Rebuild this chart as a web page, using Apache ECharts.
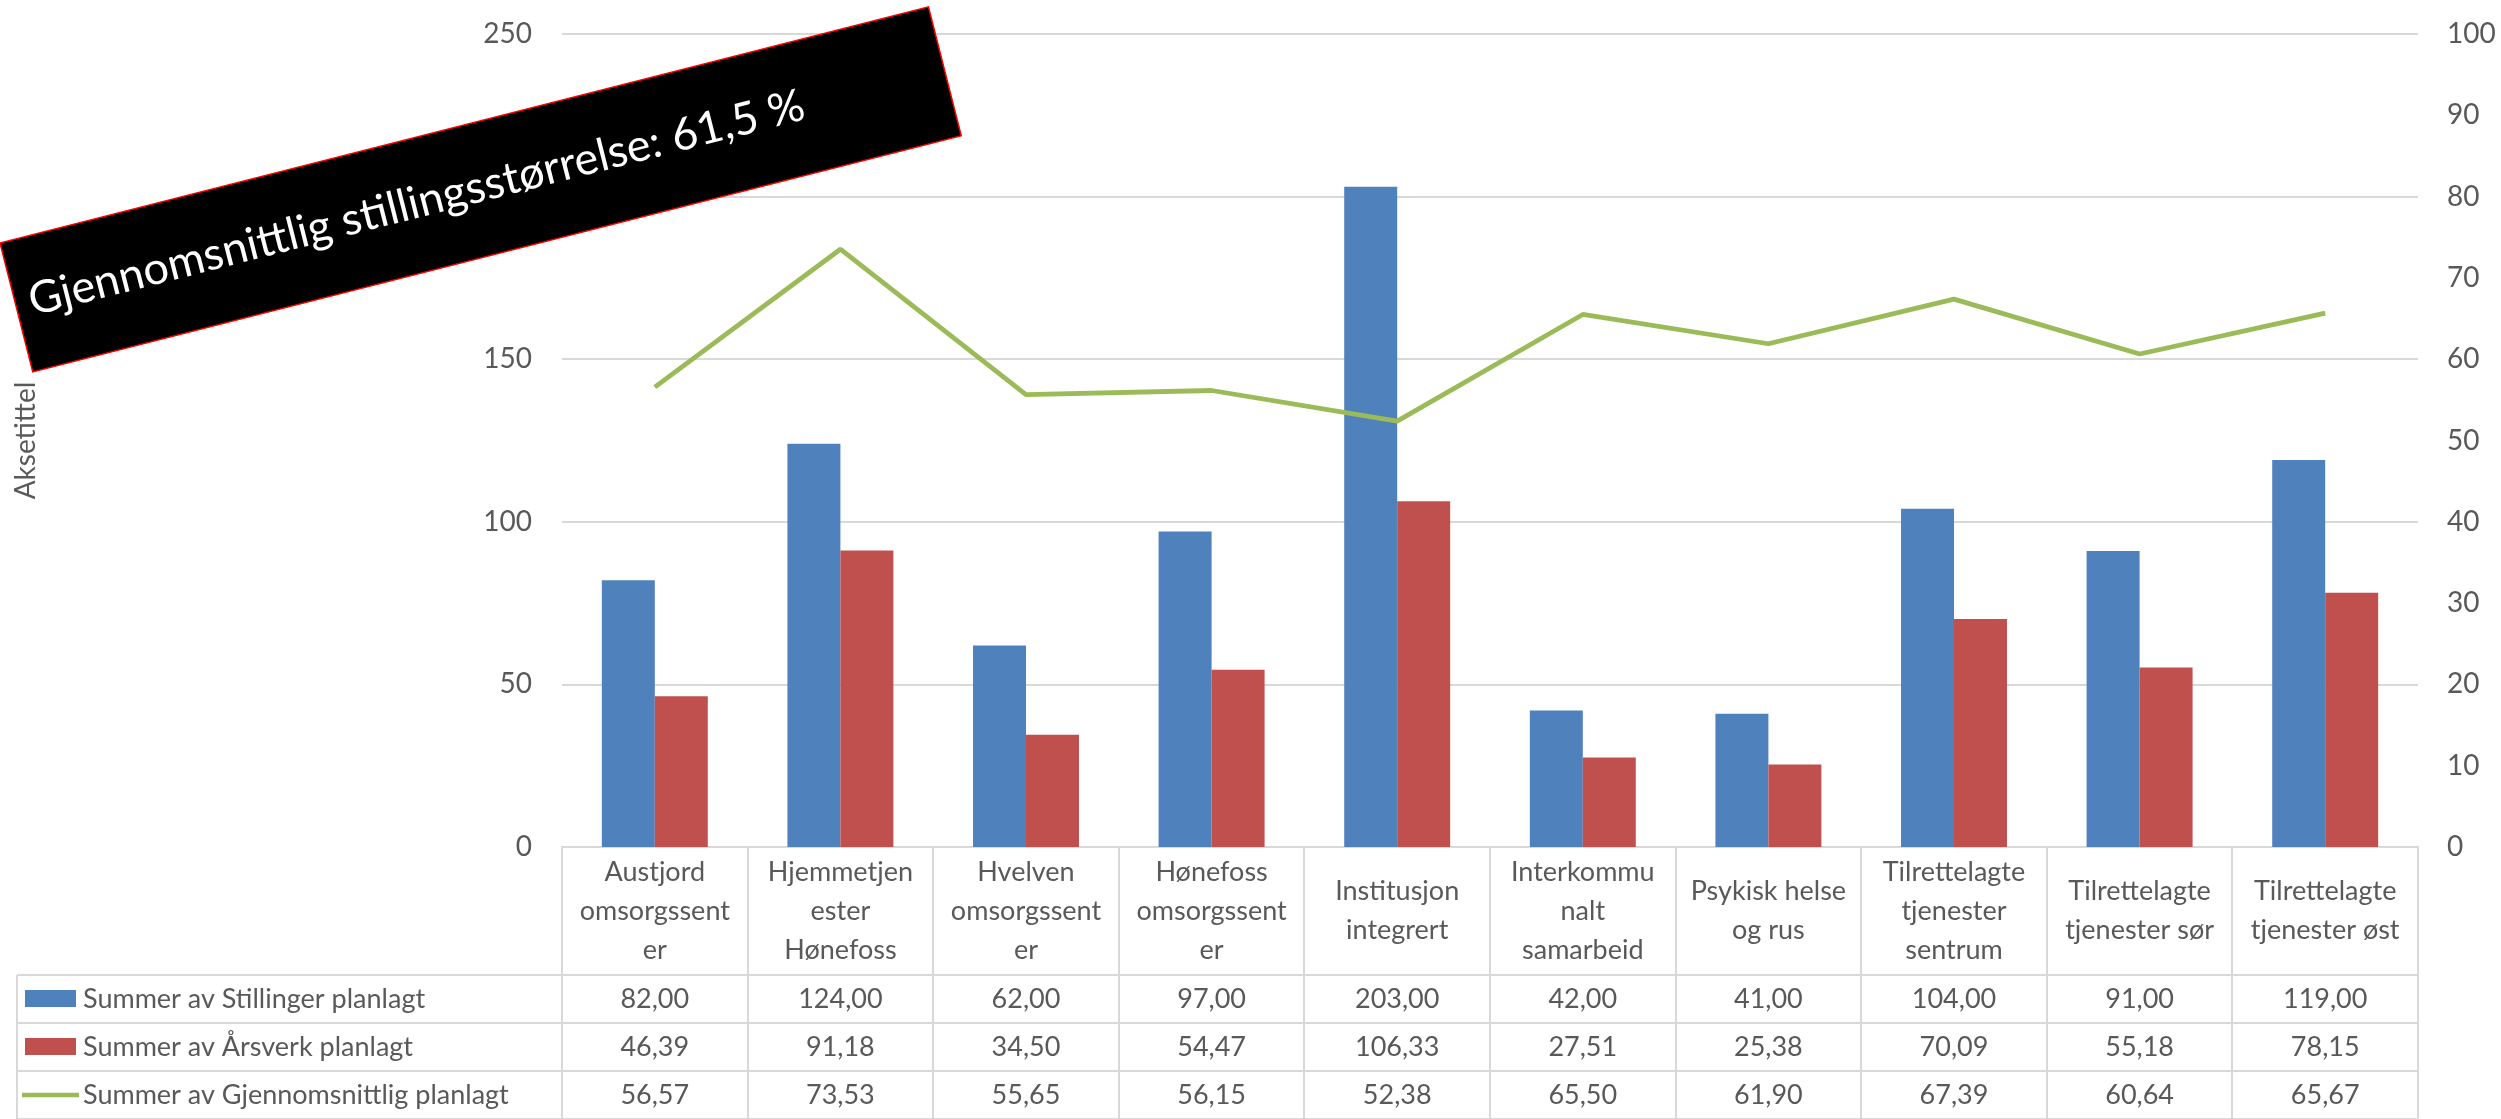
<!DOCTYPE html>
<html>
<head>
<meta charset="utf-8">
<script src="https://cdn.jsdelivr.net/npm/echarts@6/dist/echarts.min.js"></script>
<style>
  html, body { margin: 0; padding: 0; background: #ffffff; }
  #chart { width: 2501px; height: 1119px; }
</style>
</head>
<body>
<div id="chart"></div>
<script>
// Units (header cells wrap the way the table shows them)
const categories = [
  'Austjord\nomsorgssent\ner',
  'Hjemmetjen\nester\nHønefoss',
  'Hvelven\nomsorgssent\ner',
  'Hønefoss\nomsorgssent\ner',
  'Institusjon\nintegrert',
  'Interkommu\nnalt\nsamarbeid',
  'Psykisk helse\nog rus',
  'Tilrettelagte\ntjenester\nsentrum',
  'Tilrettelagte\ntjenester sør',
  'Tilrettelagte\ntjenester øst'
];
const seriesNames = [
  'Summer av Stillinger planlagt',
  'Summer av Årsverk planlagt',
  'Summer av Gjennomsnittlig planlagt'
];
const stillinger = [82.00, 124.00, 62.00, 97.00, 203.00, 42.00, 41.00, 104.00, 91.00, 119.00];
const arsverk = [46.39, 91.18, 34.50, 54.47, 106.33, 27.51, 25.38, 70.09, 55.18, 78.15];
const snitt = [56.57, 73.53, 55.65, 56.15, 52.38, 65.50, 61.90, 67.39, 60.64, 65.67];
const leftTicks = { min: 0, max: 250, interval: 50 };
const rightTicks = { min: 0, max: 100, interval: 10 };
const bannerText = 'Gjennomsnittlig stillingsstørrelse: 61,5 %';
const axisTitle = 'Aksetittel';

const COLORS = ['#4F81BD', '#C0504D', '#9BBB59'];
const FONT = 'Lato, "Open Sans", sans-serif';
const TEXT = '#595959';
const RULE = '#D9D9D9';
const GRID = { left: 562, right: 83, top: 34, bottom: 272 };
const HEADER_H = 128;
const ROW_H = 48;
const TABLE_LEFT = 17;

const fmt = v => v.toFixed(2).replace('.', ',');

const chart = echarts.init(document.getElementById('chart'), null, { renderer: 'canvas' });

chart.setOption({
  animation: false,
  backgroundColor: '#ffffff',
  textStyle: { fontFamily: FONT },
  grid: { left: GRID.left, right: GRID.right, top: GRID.top, bottom: GRID.bottom, containLabel: false },
  xAxis: {
    type: 'category',
    data: categories,
    axisLine: { show: true, lineStyle: { color: RULE, width: 2 } },
    axisTick: { show: false },
    axisLabel: {
      interval: 0,
      color: TEXT,
      fontFamily: FONT,
      fontSize: 27,
      lineHeight: 39,
      align: 'center',
      verticalAlign: 'middle',
      margin: HEADER_H / 2
    },
    splitLine: { show: false }
  },
  yAxis: [
    {
      type: 'value',
      min: leftTicks.min, max: leftTicks.max, interval: leftTicks.interval,
      name: axisTitle,
      nameLocation: 'middle',
      nameGap: 522,
      nameRotate: 90,
      nameTextStyle: { color: TEXT, fontFamily: FONT, fontSize: 28 },
      axisLine: { show: false },
      axisTick: { show: false },
      axisLabel: { color: TEXT, fontFamily: FONT, fontSize: 28, margin: 30 },
      splitLine: { show: true, lineStyle: { color: RULE, width: 2 } }
    },
    {
      type: 'value',
      min: rightTicks.min, max: rightTicks.max, interval: rightTicks.interval,
      position: 'right',
      axisLine: { show: false },
      axisTick: { show: false },
      axisLabel: { color: TEXT, fontFamily: FONT, fontSize: 28, margin: 29, align: 'left' },
      splitLine: { show: false }
    }
  ],
  series: [
    {
      name: seriesNames[0], type: 'bar', data: stillinger,
      itemStyle: { color: COLORS[0] },
      barGap: '0%', barCategoryGap: '42.9%'
    },
    {
      name: seriesNames[1], type: 'bar', data: arsverk,
      itemStyle: { color: COLORS[1] },
      barGap: '0%', barCategoryGap: '42.9%'
    },
    {
      name: seriesNames[2], type: 'line', yAxisIndex: 1, data: snitt,
      symbol: 'none',
      lineStyle: { color: COLORS[2], width: 4.8 },
      z: 5
    }
  ]
});

// Data table under the plot, aligned to the category axis
function buildTable() {
  const W = chart.getWidth();
  const axisY = chart.getHeight() - GRID.bottom;
  const plotLeft = GRID.left;
  const plotRight = W - GRID.right;
  const centers = categories.map((c, i) => chart.convertToPixel({ xAxisIndex: 0 }, i));
  const band = (plotRight - plotLeft) / categories.length;
  const rowsTop = axisY + HEADER_H;
  const tableBottom = rowsTop + ROW_H * 3;
  const els = [];
  const line = (x1, y1, x2, y2) => els.push({
    type: 'line', silent: true, z: 10,
    shape: { x1, y1, x2, y2 },
    style: { stroke: RULE, lineWidth: 2 }
  });

  // vertical rules through header and rows
  for (let i = 0; i <= categories.length; i++) {
    const x = Math.round(plotLeft + i * band);
    line(x, axisY, x, tableBottom);
  }
  line(TABLE_LEFT, rowsTop, TABLE_LEFT, tableBottom);
  // horizontal rules
  for (let r = 0; r <= 3; r++) {
    const y = rowsTop + r * ROW_H;
    line(TABLE_LEFT, y, plotRight, y);
  }

  const rows = [stillinger, arsverk, snitt];
  rows.forEach((vals, r) => {
    const cy = rowsTop + r * ROW_H + ROW_H / 2;
    // legend key
    if (r < 2) {
      els.push({ type: 'rect', silent: true, z: 11,
        shape: { x: 25, y: cy - 9, width: 51, height: 17 },
        style: { fill: COLORS[r] } });
    } else {
      els.push({ type: 'line', silent: true, z: 11,
        shape: { x1: 22, y1: cy, x2: 79, y2: cy },
        style: { stroke: COLORS[r], lineWidth: 4.5 } });
    }
    els.push({ type: 'text', silent: true, z: 11,
      x: 83, y: cy,
      style: { text: seriesNames[r], fill: TEXT, font: '27px ' + FONT, textAlign: 'left', textVerticalAlign: 'middle' } });
    vals.forEach((v, i) => {
      els.push({ type: 'text', silent: true, z: 11,
        x: centers[i], y: cy,
        style: { text: fmt(v), fill: TEXT, font: '27px ' + FONT, textAlign: 'center', textVerticalAlign: 'middle' } });
    });
  });

  // tilted banner with the overall average, drawn on its own layer above the axes
  els.push({
    type: 'group', x: 0, y: 243, rotation: 0.249, zlevel: 2,
    children: [
      { type: 'rect', zlevel: 2, z: 100, shape: { x: 0, y: 0, width: 958, height: 133 },
        style: { fill: '#000000', stroke: '#FF0000', lineWidth: 1.5 } },
      { type: 'text', zlevel: 2, z: 101, x: 14, y: 64,
        style: { text: bannerText, fill: '#ffffff', font: '45px ' + FONT, textAlign: 'left', textVerticalAlign: 'middle' } }
    ]
  });

  chart.setOption({ graphic: { elements: els } });
}
buildTable();
</script>
</body>
</html>
